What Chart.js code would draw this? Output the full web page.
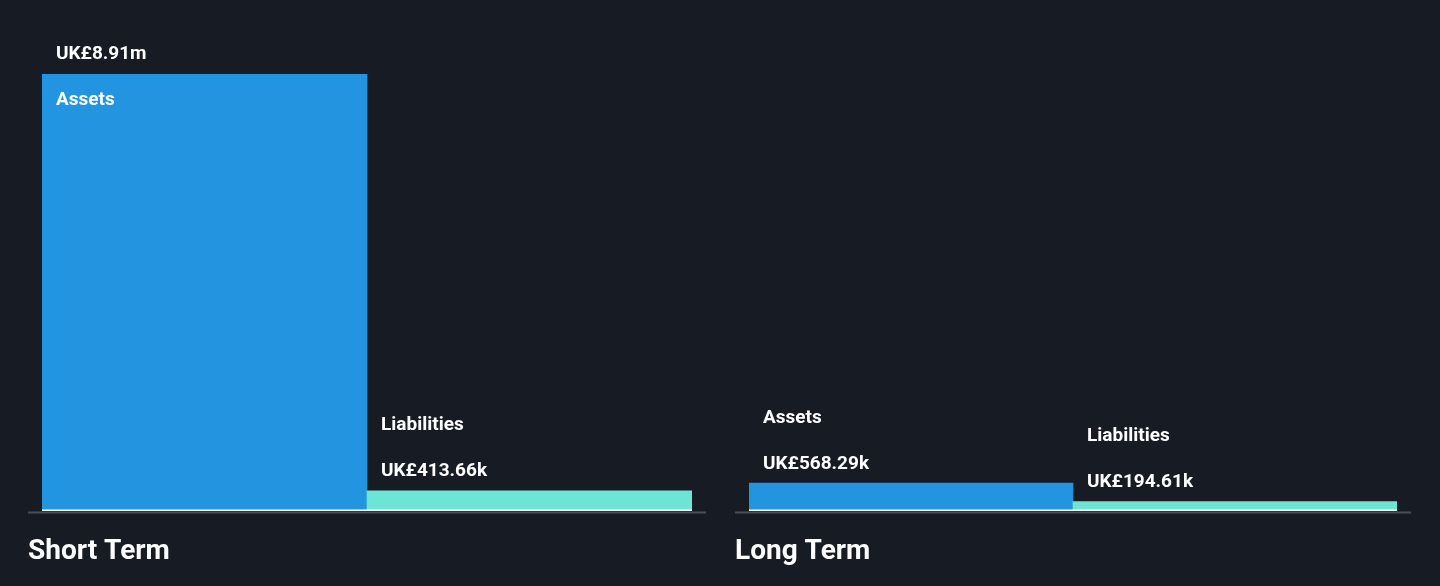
<!DOCTYPE html>
<html>
<head>
<meta charset="utf-8">
<script src="https://cdn.jsdelivr.net/npm/chart.js@4.4.0/dist/chart.umd.min.js"></script>
<style>
  html, body { margin: 0; padding: 0; background: #161b24; width: 1440px; height: 586px; overflow: hidden; }
  canvas { position: absolute; top: 0; }
  #c0 { left: 28px; }
  #c1 { left: 735px; }
</style>
</head>
<body>
<canvas id="c0" width="678" height="586"></canvas>
<canvas id="c1" width="676" height="586"></canvas>
<script>
const terms = ["Short Term", "Long Term"];
const seriesNames = ["Assets", "Liabilities"];
const assetValues = [8910000, 568290];
const liabilityValues = [413660, 194610];
const assetLabels = ["UK£8.91m", "UK£568.29k"];
const liabilityLabels = ["UK£413.66k", "UK£194.61k"];
const colors = ["#2394df", "#6ce5d4"];
const yMax = Math.max(...assetValues, ...liabilityValues);

const FONT = 'Roboto, "Noto Sans", sans-serif';

const labelPlugin = {
  id: 'labelPlugin',
  afterDatasetsDraw(chart, args, opts) {
    const ctx = chart.ctx;
    const area = chart.chartArea;
    const meta = chart.getDatasetMeta(0);
    const vals = opts.valueLabels;
    ctx.save();
    // white line under bars
    ctx.fillStyle = '#ffffff';
    ctx.fillRect(area.left, area.bottom - 1.5, area.right - area.left, 1.5);
    // grey axis line
    ctx.fillStyle = '#4b5058';
    ctx.fillRect(0, area.bottom + 0.5, chart.width, 2);
    ctx.font = 'bold 19px ' + FONT;
    ctx.fillStyle = '#ffffff';
    ctx.textBaseline = 'middle';
    ctx.textAlign = 'left';
    meta.data.forEach((bar, i) => {
      const left = bar.x - bar.width / 2 + 14;
      const top = bar.y;
      const h = area.bottom - top;
      if (h > 60) {
        ctx.fillText(vals[i], left, top - 20);
        ctx.fillText(chart.data.labels[i], left, top + 26);
      } else {
        ctx.fillText(vals[i], left, top - 19);
        ctx.fillText(chart.data.labels[i], left, top - 65);
      }
    });
    ctx.font = 'bold 28px ' + FONT;
    ctx.textBaseline = 'alphabetic';
    ctx.fillText(opts.title, 0, 559);
    ctx.restore();
  }
};

function makeChart(id, idx) {
  return new Chart(document.getElementById(id), {
    type: 'bar',
    data: {
      labels: seriesNames,
      datasets: [{
        data: [assetValues[idx], liabilityValues[idx]],
        backgroundColor: colors,
        borderWidth: 0,
        barPercentage: 1,
        categoryPercentage: 1
      }]
    },
    options: {
      responsive: false,
      animation: false,
      layout: { padding: { top: 74, bottom: 75, left: 14, right: 14 } },
      plugins: {
        legend: { display: false },
        tooltip: { enabled: false },
        labelPlugin: { title: terms[idx], valueLabels: [assetLabels[idx], liabilityLabels[idx]] }
      },
      scales: {
        x: { display: false },
        y: { display: false, min: 0, max: yMax }
      }
    },
    plugins: [labelPlugin]
  });
}
makeChart('c0', 0);
makeChart('c1', 1);
</script>
</body>
</html>
